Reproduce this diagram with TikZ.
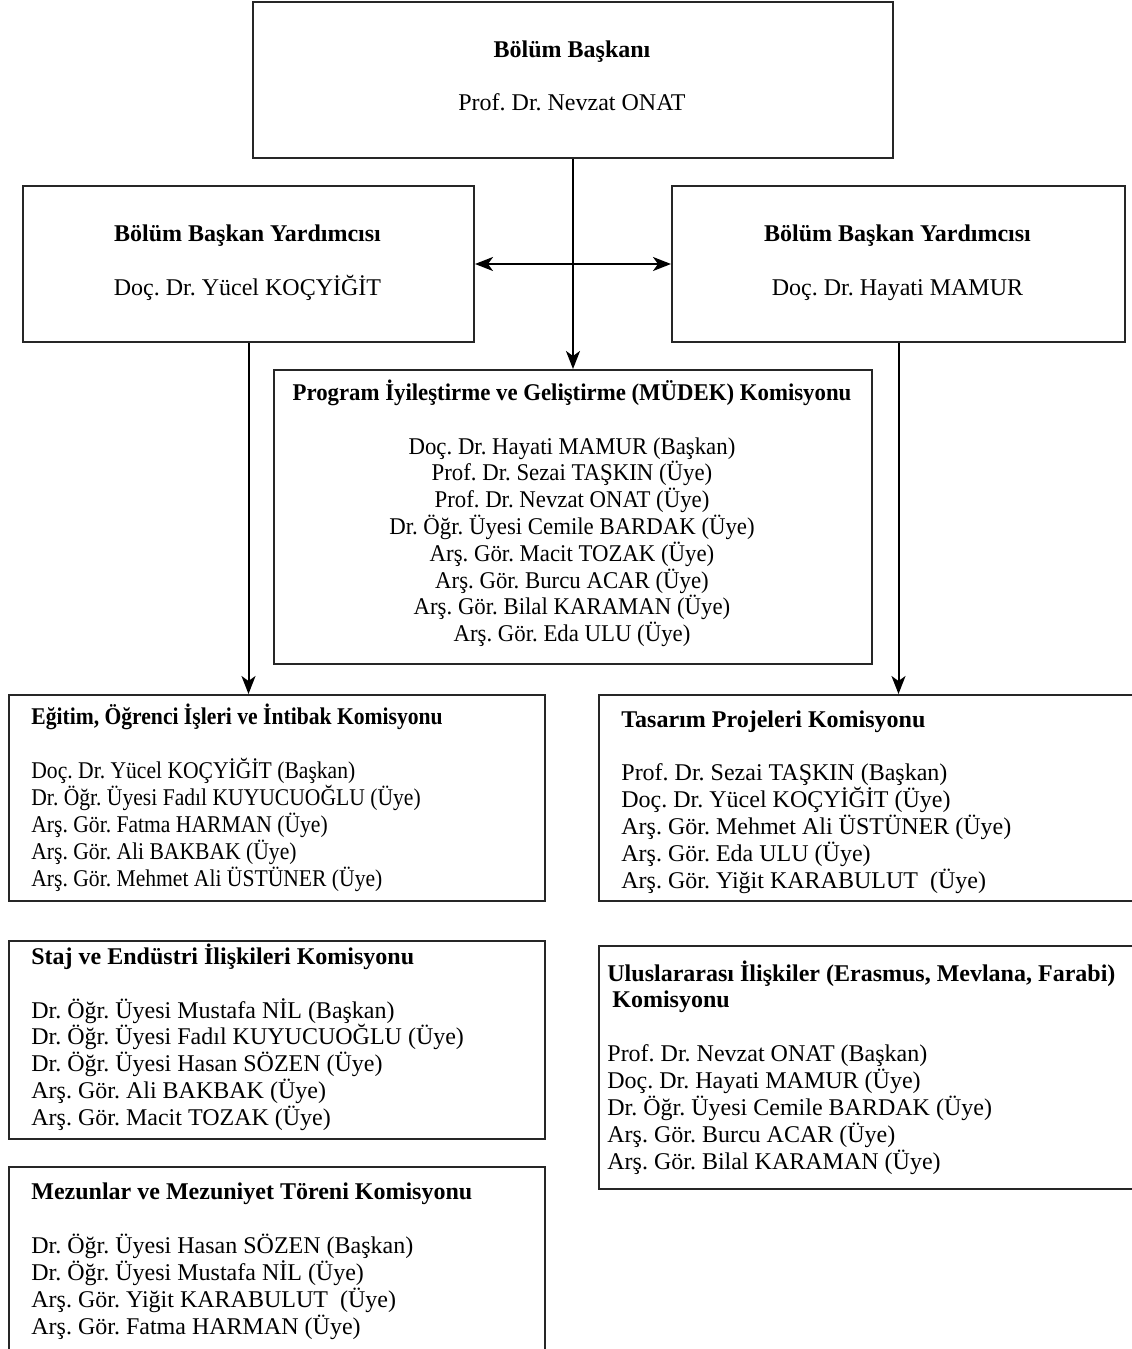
\documentclass[tikz,border=0pt]{standalone}
\usepackage{fontspec}
\setmainfont{Liberation Serif}
\newfontfamily\darA[FakeStretch=0.95]{Liberation Serif}
\newfontfamily\darB[FakeStretch=0.9]{Liberation Serif}
\frenchspacing
\usetikzlibrary{arrows.meta,positioning}

\tikzset{
  kutu/.style={draw=black!85, line width=1pt, anchor=north west, inner sep=0pt},
  baslik/.style={font=#1\bfseries\fontsize{12}{13.5}\selectfont, inner sep=0pt},
  baslik/.default=\rmfamily,
  isim/.style={font=#1\fontsize{12}{13.5}\selectfont, inner sep=0pt},
  isim/.default=\rmfamily,
  ok/.style={line width=1pt, -{Stealth[length=9pt,width=7pt,inset=2.5pt]}},
  ciftok/.style={line width=1pt, {Stealth[length=9pt,width=7pt,inset=2.5pt]}-{Stealth[length=9pt,width=7pt,inset=2.5pt]}},
}

\begin{document}
\begin{tikzpicture}[x=0.5pt, y=-0.5pt]
\useasboundingbox (0,0) rectangle (1131,1349);
% kutular
\node[kutu, minimum width=320pt, minimum height=78pt] (bas) at (252,1) {};
\node[kutu, minimum width=225.5pt, minimum height=78pt] (lyrd) at (22,185) {};
\node[kutu, minimum width=226.5pt, minimum height=78pt] (ryrd) at (671,185) {};
\node[kutu, minimum width=299pt, minimum height=147pt] (mudek) at (273,369) {};
\node[kutu, minimum width=268pt, minimum height=103pt] (egitim) at (8,694) {};
\node[kutu, minimum width=268pt, minimum height=103pt] (tasarim) at (598,694) {};
\node[kutu, minimum width=268pt, minimum height=99pt] (staj) at (8,940) {};
\node[kutu, minimum width=268pt, minimum height=121.5pt] (ulus) at (598,945) {};
\node[kutu, minimum width=268pt, minimum height=93pt] (mezun) at (8,1166) {};

% baskan ve yardimcilar
\node[baslik, anchor=base] (bas-b) at (572,57) {Bölüm Başkanı};
\node[isim, anchor=base] (bas-i) at (572,110) {Prof. Dr. Nevzat ONAT};
\node[baslik, anchor=base] (lyrd-b) at (247.5,241) {Bölüm Başkan Yardımcısı};
\node[isim, anchor=base] (lyrd-i) at (247.5,295) {Doç. Dr. Yücel KOÇYİĞİT};
\node[baslik, anchor=base] (ryrd-b) at (897.5,241) {Bölüm Başkan Yardımcısı};
\node[isim, anchor=base] (ryrd-i) at (897.5,295) {Doç. Dr. Hayati MAMUR};

% MUDEK
\node[baslik=\darA, anchor=base] (mudek-b) at (572,400) {Program İyileştirme ve Geliştirme (MÜDEK) Komisyonu};
\foreach \s [count=\i from 0] in {Doç. Dr. Hayati MAMUR (Başkan), Prof. Dr. Sezai TAŞKIN (Üye),
  Prof. Dr. Nevzat ONAT (Üye), Dr. Öğr. Üyesi Cemile BARDAK (Üye), Arş. Gör. Macit TOZAK (Üye),
  Arş. Gör. Burcu ACAR (Üye), Arş. Gör. Bilal KARAMAN (Üye), Arş. Gör. Eda ULU (Üye)}
  \node[isim=\darA, anchor=base] (mudek-\i) at (572,454+26.8*\i) {\s};

% sol komisyonlar
\node[baslik=\darB, anchor=base west] (egitim-b) at (31,724) {Eğitim, Öğrenci İşleri ve İntibak Komisyonu};
\foreach \s [count=\i from 0] in {Doç. Dr. Yücel KOÇYİĞİT (Başkan), Dr. Öğr. Üyesi Fadıl KUYUCUOĞLU (Üye),
  Arş. Gör. Fatma HARMAN (Üye), Arş. Gör. Ali BAKBAK (Üye), Arş. Gör. Mehmet Ali ÜSTÜNER (Üye)}
  \node[isim=\darB, anchor=base west] (egitim-\i) at (31,778+27*\i) {\s};

\node[baslik, anchor=base west] (staj-b) at (31,964) {Staj ve Endüstri İlişkileri Komisyonu};
\foreach \s [count=\i from 0] in {Dr. Öğr. Üyesi Mustafa NİL (Başkan), Dr. Öğr. Üyesi Fadıl KUYUCUOĞLU (Üye),
  Dr. Öğr. Üyesi Hasan SÖZEN (Üye), Arş. Gör. Ali BAKBAK (Üye), Arş. Gör. Macit TOZAK (Üye)}
  \node[isim, anchor=base west] (staj-\i) at (31,1018+26.8*\i) {\s};

\node[baslik, anchor=base west] (mezun-b) at (31,1199) {Mezunlar ve Mezuniyet Töreni Komisyonu};
\foreach \s [count=\i from 0] in {Dr. Öğr. Üyesi Hasan SÖZEN (Başkan), Dr. Öğr. Üyesi Mustafa NİL (Üye),
  Arş. Gör. Yiğit KARABULUT~ (Üye), Arş. Gör. Fatma HARMAN (Üye)}
  \node[isim, anchor=base west] (mezun-\i) at (31,1253+27*\i) {\s};

% sag komisyonlar
\node[baslik, anchor=base west] (tasarim-b) at (621,727) {Tasarım Projeleri Komisyonu};
\foreach \s [count=\i from 0] in {Prof. Dr. Sezai TAŞKIN (Başkan), Doç. Dr. Yücel KOÇYİĞİT (Üye),
  Arş. Gör. Mehmet Ali ÜSTÜNER (Üye), Arş. Gör. Eda ULU (Üye), Arş. Gör. Yiğit KARABULUT~ (Üye)}
  \node[isim, anchor=base west] (tasarim-\i) at (621,780+27*\i) {\s};

\node[baslik, anchor=base west] (ulus-b) at (607,981) {Uluslararası İlişkiler (Erasmus, Mevlana, Farabi)};
\node[baslik, anchor=base west] (ulus-b2) at (612,1007) {Komisyonu};
\foreach \s [count=\i from 0] in {Prof. Dr. Nevzat ONAT (Başkan), Doç. Dr. Hayati MAMUR (Üye),
  Dr. Öğr. Üyesi Cemile BARDAK (Üye), Arş. Gör. Burcu ACAR (Üye), Arş. Gör. Bilal KARAMAN (Üye)}
  \node[isim, anchor=base west] (ulus-\i) at (607,1061+27*\i) {\s};

% oklar
\draw[ok] (bas.south) -- (mudek.north);
\draw[ciftok] (lyrd.east) -- (ryrd.west);
\draw[ok] (lyrd.south) -- (lyrd.south |- egitim.north);
\draw[ok] (ryrd.south) -- (ryrd.south |- tasarim.north);
\end{tikzpicture}
\end{document}
